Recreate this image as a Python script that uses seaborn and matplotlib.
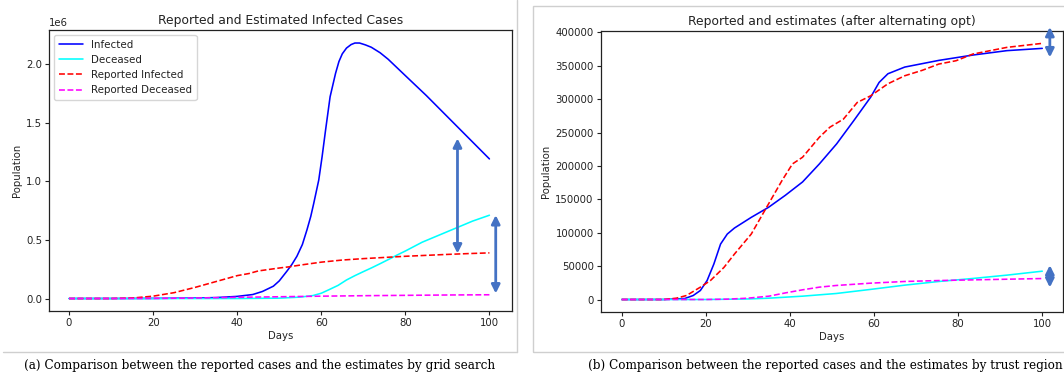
import numpy as np
import pandas as pd
import matplotlib
matplotlib.use("Agg")
import matplotlib.pyplot as plt
import seaborn as sns
from matplotlib.patches import Rectangle
from matplotlib.lines import Line2D

# ---------------- data: panel (a) grid search ----------------
a_inf_days = [0, 10, 20, 30, 35, 40, 43.7, 46, 48.6, 50, 51.8, 53, 54.2, 55.5, 56.6, 57.5, 58.2, 59.4, 60.2, 61.0, 62.1, 63.4, 64.2, 65.0, 66, 67.1, 68, 69.1, 70.5, 71.9, 74, 75.9, 80, 85, 90, 95, 100]
a_inf_vals = [0, 0, 1e3, 4e3, 8e3, 1.8e4, 3.4e4, 6e4, 1.05e5, 1.5e5, 2.32e5, 2.9e5, 3.6e5, 4.6e5, 5.86e5, 7.0e5, 8.1e5, 1.01e6, 1.21e6, 1.43e6, 1.72e6, 1.92e6, 2.02e6, 2.086e6, 2.135e6, 2.165e6, 2.178e6, 2.178e6, 2.162e6, 2.142e6, 2.095e6, 2.04e6, 1.90e6, 1.73e6, 1.55e6, 1.37e6, 1.19e6]

a_dec_days = [0, 40, 50, 55, 58, 60, 62, 64, 66, 68, 70, 72, 74, 76, 78, 80, 84, 88, 92, 96, 100]
a_dec_vals = [0, 0, 3e3, 1.2e4, 2.5e4, 4.5e4, 7.8e4, 1.12e5, 1.58e5, 1.95e5, 2.29e5, 2.62e5, 2.97e5, 3.33e5, 3.7e5, 4.05e5, 4.8e5, 5.4e5, 6.0e5, 6.6e5, 7.1e5]

a_rinf_days = [0, 10, 15, 20, 25, 30, 35, 40, 42.8, 45, 50, 52.3, 55, 60, 65, 70, 75, 80, 85, 90, 95, 100]
a_rinf_vals = [0, 0, 4e3, 2e4, 5e4, 9.5e4, 1.45e5, 1.95e5, 2.13e5, 2.35e5, 2.6e5, 2.7e5, 2.85e5, 3.1e5, 3.28e5, 3.4e5, 3.5e5, 3.6e5, 3.68e5, 3.76e5, 3.83e5, 3.89e5]

a_rdec_days = [0, 20, 30, 40, 50, 60, 70, 80, 90, 100]
a_rdec_vals = [0, 1e3, 4e3, 1e4, 1.5e4, 2e4, 2.4e4, 2.7e4, 3e4, 3.2e4]

# double arrows (day, top, bottom)
a_arrows = [(92.4, 1.365e6, 0.384e6), (101.5, 0.711e6, 0.043e6)]

# ---------------- data: panel (b) trust region ----------------
b_inf_days = [0, 10, 15, 17, 18.7, 20.3, 21.9, 23.5, 25.1, 26.8, 30.8, 34.9, 38.9, 43, 47, 51.1, 55.2, 59.2, 61.2, 63.3, 67.3, 75.4, 83.5, 91.6, 100]
b_inf_vals = [0, 0, 1500, 6000, 13500, 28400, 53000, 83000, 98000, 107000, 123000, 138000, 156000, 176000, 203000, 233000, 268000, 303000, 325000, 338000, 348000, 358000, 366000, 372600, 376000]

b_rinf_days = [0, 10, 13, 15.4, 18.7, 21.1, 24.3, 26.8, 30.8, 34.9, 38.1, 40.6, 43, 47, 49.5, 52.7, 56, 59.2, 63.3, 67.3, 71.4, 75.4, 79.5, 83.5, 91.6, 100]
b_rinf_vals = [0, 0, 2000, 6000, 18500, 28400, 48000, 68000, 98000, 143000, 178000, 203000, 213000, 243000, 258000, 270000, 295000, 305000, 323000, 335000, 343000, 352500, 357500, 367500, 377500, 383500]

b_dec_days = [0, 20, 30, 35, 43, 51, 59, 67.3, 75.4, 83.5, 91.6, 100]
b_dec_vals = [0, 0, 800, 2000, 5000, 9000, 15000, 21500, 27000, 31500, 36500, 42400]

b_rdec_days = [0, 20, 25, 30, 35, 39, 43, 47, 51, 59, 67.3, 75.4, 83.5, 100]
b_rdec_vals = [0, 0, 500, 2000, 5000, 10000, 14500, 18500, 21000, 24400, 27000, 28400, 29400, 31400]

b_arrows = [(101.8, 408000, 362500), (101.8, 51400, 18000)]

title_a = "Reported and Estimated Infected Cases"
title_b = "Reported and estimates (after alternating opt)"
caption_a = "(a) Comparison between the reported cases and the estimates by grid search"
caption_b = "(b) Comparison between the reported cases and the estimates by trust region"

# ---------------- style ----------------
sns.set_style("ticks")
plt.rcParams['font.family'] = ['DejaVu Sans']
plt.rcParams.update({
    'axes.edgecolor': '#222222', 'axes.linewidth': 0.9,
    'xtick.color': '#222222', 'ytick.color': '#222222',
    'xtick.labelcolor': '#222222', 'ytick.labelcolor': '#222222',
    'xtick.labelsize': 7.3, 'ytick.labelsize': 7.3,
    'xtick.major.size': 3, 'ytick.major.size': 3,
    'axes.labelsize': 7.3, 'axes.titlesize': 8.9,
    'axes.labelcolor': '#222222', 'text.color': '#222222',
})

W, H = 1064, 374
fig = plt.figure(figsize=(W / 100, H / 100), dpi=100)

def frac(x0, y0, x1, y1):
    return [x0 / W, 1 - y1 / H, (x1 - x0) / W, (y1 - y0) / H]

ax1 = fig.add_axes(frac(49.3, 30, 511.7, 311.3))
ax2 = fig.add_axes(frac(600.7, 31, 1063.3, 312.3))

lw = 1.15
sns.lineplot(x=a_inf_days, y=a_inf_vals, ax=ax1, color='blue', lw=lw, label='Infected')
sns.lineplot(x=a_dec_days, y=a_dec_vals, ax=ax1, color='cyan', lw=lw, label='Deceased')
sns.lineplot(x=a_rinf_days, y=a_rinf_vals, ax=ax1, color='red', lw=lw, linestyle='--', label='Reported Infected')
sns.lineplot(x=a_rdec_days, y=a_rdec_vals, ax=ax1, color='magenta', lw=lw, linestyle='--', label='Reported Deceased')

sns.lineplot(x=b_inf_days, y=b_inf_vals, ax=ax2, color='blue', lw=lw)
sns.lineplot(x=b_dec_days, y=b_dec_vals, ax=ax2, color='cyan', lw=lw)
sns.lineplot(x=b_rinf_days, y=b_rinf_vals, ax=ax2, color='red', lw=lw, linestyle='--')
sns.lineplot(x=b_rdec_days, y=b_rdec_vals, ax=ax2, color='magenta', lw=lw, linestyle='--')

ax1.set_xlim(-4.7, 105.3)
ax1.set_ylim(-0.109e6, 2.289e6)
ax2.set_xlim(-5.0, 105.0)
ax2.set_ylim(-19150, 402000)

for ax, title in [(ax1, title_a), (ax2, title_b)]:
    ax.set_title(title, pad=4)
    ax.set_xlabel('Days', labelpad=2)
    ax.set_ylabel('Population', labelpad=3)
    ax.set_xticks([0, 20, 40, 60, 80, 100])
    ax.tick_params(pad=2)

ax2.set_yticks(np.arange(0, 400001, 50000))
ax2.ticklabel_format(axis='y', style='plain')

leg = ax1.legend(loc='upper left', fontsize=7.4, frameon=True, handlelength=2.3,
                 borderpad=0.45, labelspacing=0.5, handletextpad=0.8, borderaxespad=0.5)
leg.get_frame().set_edgecolor('#cccccc')

arrow_color = '#4472C4'
for ax, arrows in [(ax1, a_arrows), (ax2, b_arrows)]:
    for xd, top, bot in arrows:
        ax.annotate('', xy=(xd, top), xytext=(xd, bot), annotation_clip=False,
                    arrowprops=dict(arrowstyle='<|-|>,head_length=0.5,head_width=0.25',
                                    color=arrow_color, lw=2.0, shrinkA=0, shrinkB=0))

# panel frames
frame_c = '#cfcfcf'
fig.add_artist(Line2D([3.3 / W, 516.7 / W], [1 - 351.7 / H, 1 - 351.7 / H], transform=fig.transFigure, color=frame_c, lw=1.0))
fig.add_artist(Line2D([516.7 / W, 516.7 / W], [1 - 351.7 / H, 1.0], transform=fig.transFigure, color=frame_c, lw=1.0))
fig.add_artist(Rectangle((532.7 / W, 1 - 351.7 / H), 540 / W, 345.7 / H, transform=fig.transFigure,
                         fill=False, edgecolor=frame_c, lw=1.0))

cap_font = ['DejaVu Serif']
ta = fig.text(260 / W, 1 - 365 / H, caption_a, ha='center', va='center', fontsize=10, family=cap_font, color='black')
tb = fig.text(588 / W, 1 - 365 / H, caption_b, ha='left', va='center', fontsize=10, family=cap_font, color='black')
fig.canvas.draw()
wa = ta.get_window_extent().width
size = 10 * 474 / wa
ta.set_fontsize(size)
tb.set_fontsize(size)

fig.savefig('out.png', dpi=100)
